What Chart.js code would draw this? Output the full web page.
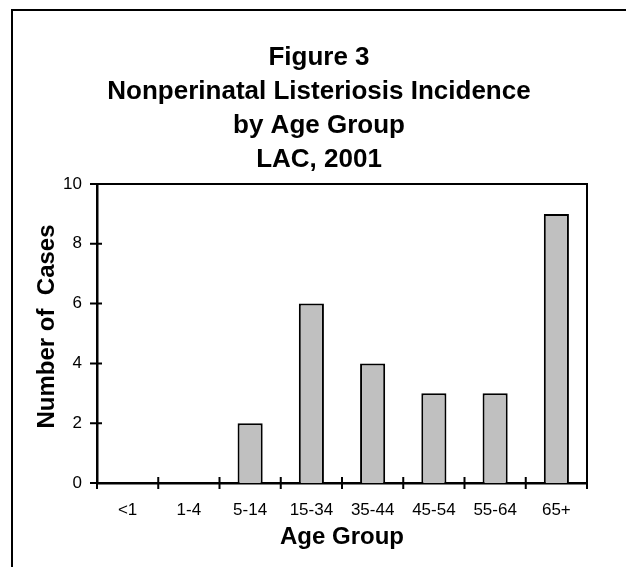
<!DOCTYPE html>
<html>
<head>
<meta charset="utf-8">
<script src="https://cdn.jsdelivr.net/npm/chart.js@4"></script>
<style>
  html, body { margin: 0; padding: 0; background: #fff; }
  canvas { display: block; }
</style>
</head>
<body>
<canvas id="chart" width="626" height="567"></canvas>
<script>
const ageGroups = ['<1', '1-4', '5-14', '15-34', '35-44', '45-54', '55-64', '65+'];
const cases = [0, 0, 2, 6, 4, 3, 3, 9];
const titleLines = ['Figure 3', 'Nonperinatal Listeriosis Incidence', 'by Age Group', 'LAC, 2001'];
const yTitle = 'Number of  Cases';

const FONT = '"Liberation Sans", Arial, Helvetica, sans-serif';

// frame, plot box, crossing tick marks, titles
const decorations = {
  id: 'decorations',
  afterDraw(chart) {
    const ctx = chart.ctx;
    const area = chart.chartArea;
    const xs = chart.scales.x;
    const ys = chart.scales.y;
    ctx.save();
    ctx.strokeStyle = '#000';

    // outer frame (left + top only visible)
    ctx.lineWidth = 2;
    ctx.beginPath();
    ctx.moveTo(12, chart.height);
    ctx.lineTo(12, 10);
    ctx.lineTo(chart.width, 10);
    ctx.stroke();

    // plot box top + right
    ctx.beginPath();
    ctx.moveTo(area.left, area.top);
    ctx.lineTo(area.right, area.top);
    ctx.lineTo(area.right, area.bottom);
    ctx.stroke();

    // ticks crossing the axes
    ctx.beginPath();
    ys.ticks.forEach(t => {
      const y = ys.getPixelForValue(t.value);
      ctx.moveTo(area.left - 7, y);
      ctx.lineTo(area.left + 5, y);
    });
    for (let i = 0; i <= ageGroups.length; i++) {
      const x = xs.getPixelForValue(i - 0.5);
      ctx.moveTo(x, area.bottom - 6);
      ctx.lineTo(x, area.bottom + 6);
    }
    ctx.stroke();

    // chart title
    ctx.fillStyle = '#000';
    ctx.font = 'bold 26px ' + FONT;
    ctx.textAlign = 'center';
    ctx.textBaseline = 'alphabetic';
    const cx = (12 + chart.width) / 2;
    titleLines.forEach((line, i) => {
      ctx.fillText(line, cx, 65 + i * 34);
    });

    // y axis title
    ctx.font = 'bold 24px ' + FONT;
    ctx.textBaseline = 'middle';
    ctx.translate(47, (area.top + area.bottom) / 2 - 7);
    ctx.rotate(-Math.PI / 2);
    ctx.fillText(yTitle, 0, 0);
    ctx.restore();
  }
};

new Chart(document.getElementById('chart'), {
  type: 'bar',
  data: {
    labels: ageGroups,
    datasets: [{
      data: cases,
      backgroundColor: '#c0c0c0',
      borderColor: '#000',
      borderWidth: 2,
      barPercentage: 0.41,
      categoryPercentage: 1
    }]
  },
  options: {
    responsive: false,
    animation: false,
    devicePixelRatio: 1,
    layout: { padding: { left: 12, top: 184, right: 39, bottom: 0 } },
    plugins: {
      legend: { display: false },
      title: { display: false },
      tooltip: { enabled: false }
    },
    scales: {
      x: {
        grid: { display: false, drawTicks: false },
        border: { display: true, color: '#000', width: 2.5 },
        ticks: { color: '#000', padding: 17, font: { family: FONT, size: 17 } },
        title: {
          display: true,
          text: 'Age Group',
          color: '#000',
          font: { family: FONT, size: 24, weight: 'bold' },
          padding: { top: 0, bottom: 15 }
        },
        afterFit(scale) { scale.height = 84; }
      },
      y: {
        min: 0,
        max: 10,
        grid: { display: false, drawTicks: false },
        border: { display: true, color: '#000', width: 2.5 },
        ticks: { stepSize: 2, color: '#000', padding: 15, font: { family: FONT, size: 17 } },
        afterFit(scale) { scale.width = 85; }
      }
    }
  },
  plugins: [decorations]
});
</script>
</body>
</html>
